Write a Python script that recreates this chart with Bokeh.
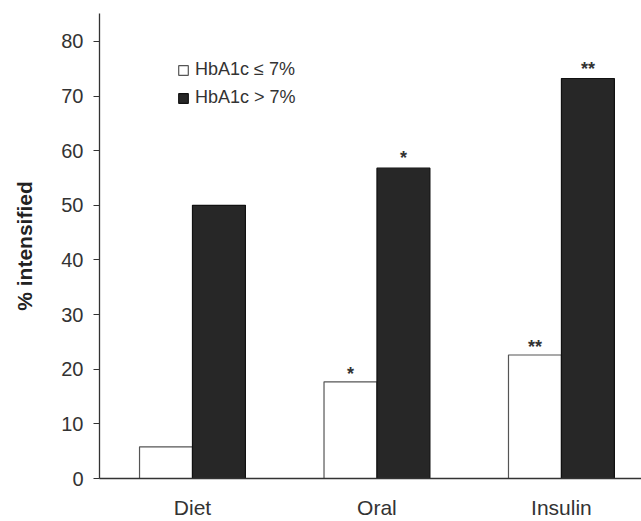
from bokeh.plotting import figure
from bokeh.models import ColumnDataSource, Range1d, FixedTicker, Legend, LegendItem
from bokeh.core.properties import value
from bokeh.transform import dodge
from bokeh.embed import file_html
from bokeh.resources import INLINE

# Data
categories = ["Diet", "Oral", "Insulin"]
low_hba1c = [5.8, 17.7, 22.6]      # HbA1c <= 7%
high_hba1c = [50.0, 56.8, 73.2]    # HbA1c > 7%
low_marks = ["", "*", "**"]
high_marks = ["", "*", "**"]
y_ticks = [0, 10, 20, 30, 40, 50, 60, 70, 80]

pos = list(range(len(categories)))
src = ColumnDataSource(dict(x=pos, low=low_hba1c, high=high_hba1c,
                            lm=low_marks, hm=high_marks))

FONT = "Liberation Sans"
p = figure(width=641, height=521, output_backend="svg", toolbar_location=None,
           x_range=Range1d(-0.504, 2.434), y_range=Range1d(0, 85.1),
           min_border_left=99, min_border_right=0, min_border_top=13, min_border_bottom=42)
p.outline_line_color = None
p.grid.grid_line_color = None
p.background_fill_color = "white"

w = 0.287
r_low = p.vbar(x=dodge("x", -w / 2), top="low", width=w, source=src,
               fill_color="white", line_color="#555555", line_width=1.2)
r_high = p.vbar(x=dodge("x", w / 2), top="high", width=w, source=src,
                fill_color="#272727", line_color="#111111", line_width=1.2)

# significance marks
p.text(x=dodge("x", -w / 2), y="low", text="lm", source=src, text_align="center",
       text_baseline="middle", y_offset=-8, text_font=value(FONT),
       text_font_size="18px", text_color="#333333", text_font_style="bold")
p.text(x=dodge("x", w / 2), y="high", text="hm", source=src, text_align="center",
       text_baseline="middle", y_offset=-10, text_font=value(FONT),
       text_font_size="18px", text_color="#333333", text_font_style="bold")

# axes
p.yaxis.ticker = FixedTicker(ticks=y_ticks)
p.yaxis.axis_label = "% intensified"
p.yaxis.axis_label_text_font = FONT
p.yaxis.axis_label_text_font_style = "bold"
p.yaxis.axis_label_text_font_size = "21px"
p.yaxis.axis_label_text_color = "#222222"
p.yaxis.axis_label_standoff = 22
p.yaxis.major_label_text_font = FONT
p.yaxis.major_label_text_font_size = "20px"
p.yaxis.major_label_text_color = "#333333"
p.yaxis.major_label_standoff = 10
p.yaxis.major_tick_in = 0
p.yaxis.major_tick_out = 6
p.yaxis.minor_tick_line_color = None
p.yaxis.axis_line_color = "#333333"
p.yaxis.major_tick_line_color = "#333333"
p.yaxis.axis_line_width = 1.3

p.xaxis.ticker = FixedTicker(ticks=pos)
p.xaxis.major_label_overrides = {i: c for i, c in enumerate(categories)}
p.xaxis.major_label_text_font = FONT
p.xaxis.major_label_text_font_size = "21px"
p.xaxis.major_label_text_color = "#333333"
p.xaxis.major_label_standoff = 17
p.xaxis.major_tick_in = 0
p.xaxis.major_tick_out = 0
p.xaxis.major_tick_line_color = None
p.xaxis.minor_tick_line_color = None
p.xaxis.axis_line_color = "#333333"
p.xaxis.axis_line_width = 1.3

legend = Legend(items=[LegendItem(label="HbA1c \u2264 7%", renderers=[r_low]),
                       LegendItem(label="HbA1c > 7%", renderers=[r_high])],
                location=(78, 370), padding=0, margin=0, spacing=7,
                glyph_width=12, glyph_height=12, label_height=21,
                label_standoff=6, border_line_color=None,
                background_fill_alpha=0, label_text_font=FONT,
                label_text_font_size="18px", label_text_color="#333333")
p.add_layout(legend, "center")

open("out.html", "w").write(file_html(p, INLINE))
